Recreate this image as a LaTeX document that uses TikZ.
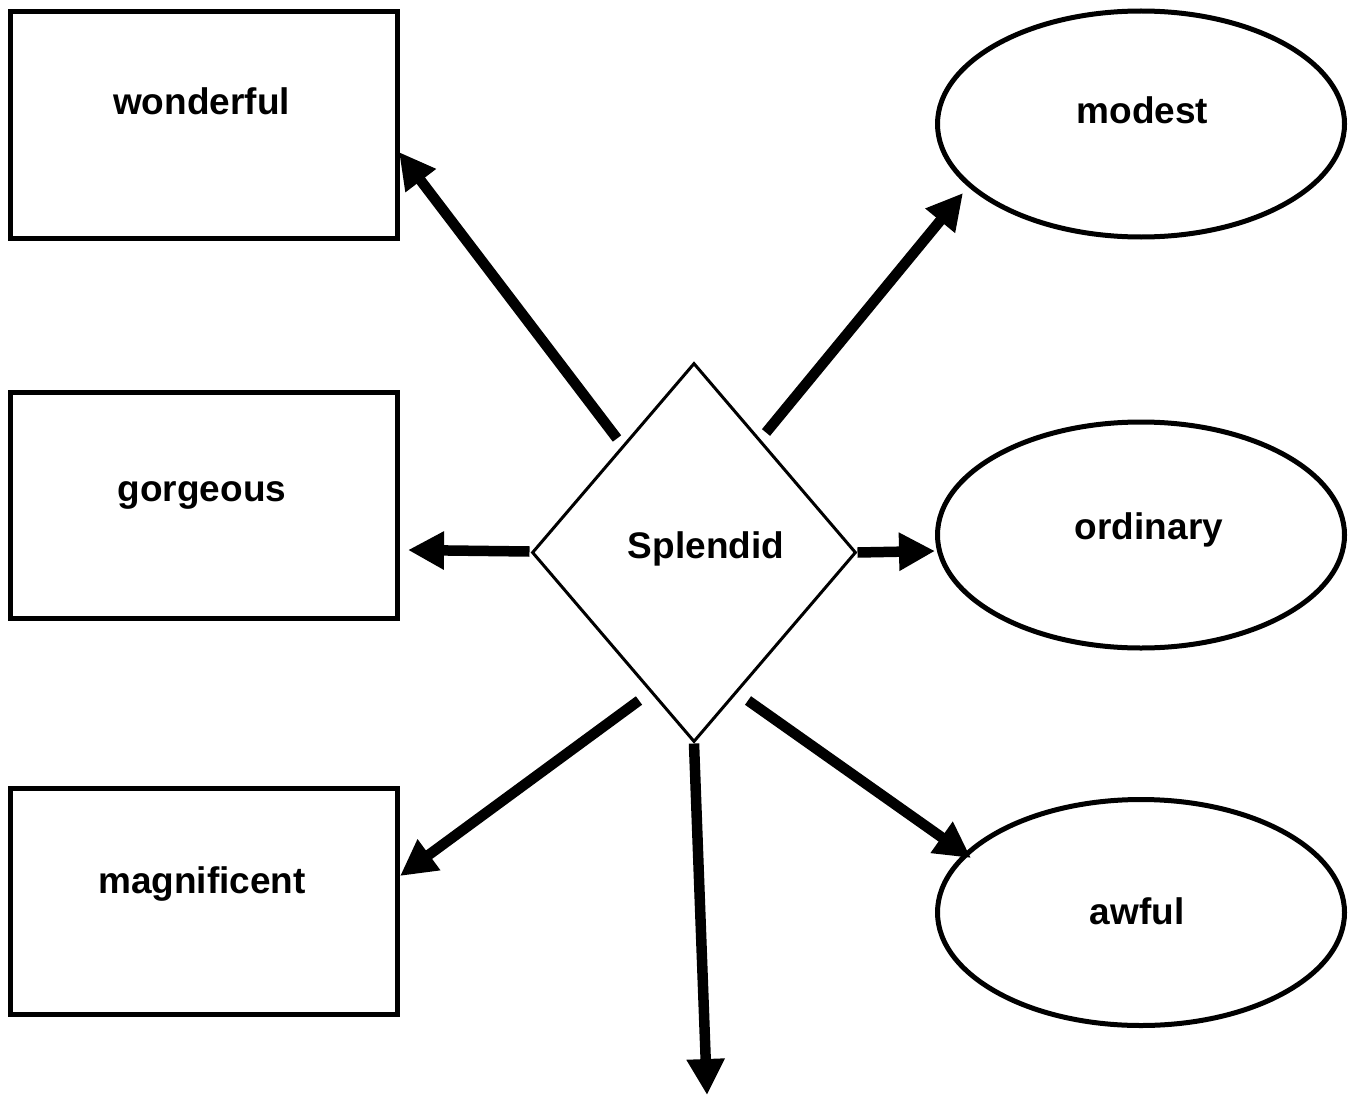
\documentclass[tikz,border=0pt]{standalone}
\usepackage{fontspec}
\setmainfont{Liberation Sans}
\usetikzlibrary{shapes.geometric,arrows.meta,calc}
\tikzset{
  box/.style={draw=black, line width=5pt, rectangle, minimum width=387.5pt, minimum height=226pt, inner sep=0pt},
  oval/.style={draw=black, line width=5pt, ellipse, minimum width=407pt, minimum height=226pt, inner sep=0pt},
  rhomb/.style={draw=black, line width=3pt, diamond, minimum width=324pt, minimum height=379pt, inner sep=0pt},
  lbl/.style={anchor=base, inner sep=0pt, font=\fontsize{37}{44}\selectfont\bfseries},
  arr/.style={line width=10.5pt, -{Triangle[length=36pt,width=36pt]}}
}
\begin{document}
\begin{tikzpicture}[x=1pt,y=-1pt]
\useasboundingbox (0,0) rectangle (1356,1097);
% shapes
\node[box] (wonderful) at (203.75,125) {};
\node[box] (gorgeous) at (203.75,505) {};
\node[box] (magnificent) at (203.75,901) {};
\node[oval] (modest) at (1141,124) {};
\node[oval] (ordinary) at (1141,535) {};
\node[oval] (awful) at (1141,912.5) {};
\node[rhomb] (dia) at (694,552.5) {};
% labels
\node[lbl] (t1) at (201.5,114) {wonderful};
\node[lbl] (t2) at (202,501) {gorgeous};
\node[lbl] (t3) at (202,893) {magnificent};
\node[lbl] (t4) at (1142.5,124) {modest};
\node[lbl] (t5) at (1149,539) {ordinary};
\node[lbl] (t6) at (1137,924) {awful};
\node[lbl] (t7) at (706,558) {Splendid};
% free end
\coordinate (bot) at (707,1095);
% arrows
\draw[arr] ($(dia.center)+(-77,-114)$) -- ($(wonderful.east)+(-1,27)$);
\draw[arr] ($(dia.center)+(72,-120)$) -- ($(modest.center)+(-178,69)$);
\draw[arr] ($(dia.west)+(-1,-1)$) -- ($(gorgeous.east)+(8,45)$);
\draw[arr] (dia.east) -- ($(ordinary.center)+(-206,16)$);
\draw[arr] ($(dia.center)+(-55,148)$) -- ($(magnificent.east)+(0,-25)$);
\draw[arr] ($(dia.center)+(54,148)$) -- ($(awful.center)+(-170,-54.5)$);
\draw[arr] (dia.south) -- (bot);
\end{tikzpicture}
\end{document}
